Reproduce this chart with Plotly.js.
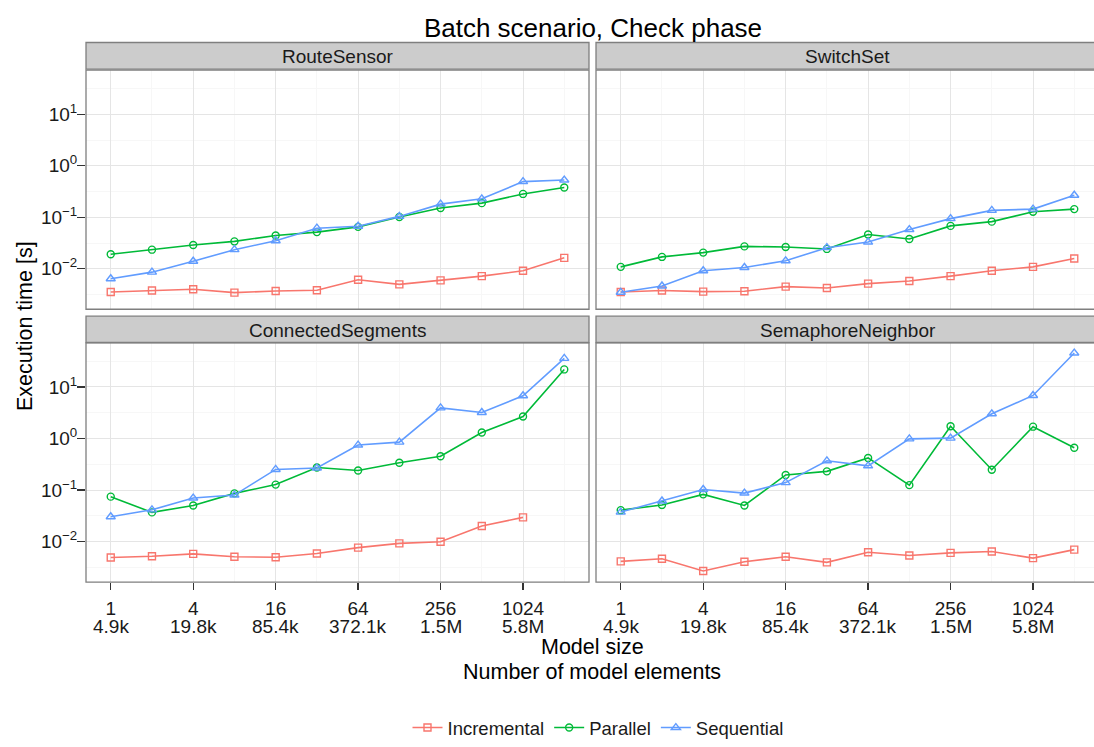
<!DOCTYPE html>
<html>
<head>
<meta charset="utf-8">
<script src="https://cdn.plot.ly/plotly-3.0.1.min.js"></script>
<style>
html, body { margin: 0; padding: 0; overflow: hidden; background: #ffffff; }
#chart { width: 1094px; height: 747px; }
</style>
</head>
<body>
<div id="chart"></div>
<script>
// ---------------- data ----------------
const sizes = [1, 2, 4, 8, 16, 32, 64, 128, 256, 512, 1024, 2048];
const tickSizes = [1, 4, 16, 64, 256, 1024];
const tickElements = ['4.9k', '19.8k', '85.4k', '372.1k', '1.5M', '5.8M'];
const yTickVals = [0.01, 0.1, 1, 10];
const yTickText = ['10<sup>\u22122</sup>', '10<sup>\u22121</sup>', '10<sup>0</sup>', '10<sup>1</sup>'];
const panels = ['RouteSensor', 'SwitchSet', 'ConnectedSegments', 'SemaphoreNeighbor'];
const seriesNames = ['Incremental', 'Parallel', 'Sequential'];

const routeSensorIncremental = [0.00355, 0.00378, 0.0040, 0.00345, 0.0037, 0.00383, 0.00614, 0.00499, 0.00596, 0.00721, 0.00916, 0.0163];
const routeSensorParallel = [0.0191, 0.0235, 0.0290, 0.0340, 0.0443, 0.0515, 0.0651, 0.101, 0.151, 0.188, 0.284, 0.378];
const routeSensorSequential = [0.00642, 0.0086, 0.0140, 0.0235, 0.035, 0.0614, 0.0671, 0.104, 0.180, 0.228, 0.492, 0.528];

const switchSetIncremental = [0.00355, 0.00378, 0.00361, 0.00366, 0.00451, 0.00424, 0.00515, 0.00578, 0.00721, 0.00916, 0.0109, 0.0158];
const switchSetParallel = [0.0109, 0.0170, 0.0206, 0.0272, 0.0265, 0.0243, 0.0463, 0.0378, 0.068, 0.0823, 0.128, 0.144];
const switchSetSequential = [0.0035, 0.00463, 0.00916, 0.0106, 0.0143, 0.0257, 0.033, 0.0578, 0.094, 0.136, 0.144, 0.268];

const connectedSegmentsIncremental = [0.00494, 0.00523, 0.00582, 0.0051, 0.00501, 0.0059, 0.00768, 0.00929, 0.0100, 0.0202, 0.0296, null];
const connectedSegmentsParallel = [0.0748, 0.037, 0.0504, 0.0865, 0.128, 0.275, 0.241, 0.339, 0.455, 1.31, 2.68, 21.9];
const connectedSegmentsSequential = [0.0305, 0.0415, 0.0703, 0.0802, 0.252, 0.268, 0.748, 0.853, 3.94, 3.20, 6.76, 35.9];

const semaphoreNeighborIncremental = [0.00415, 0.00466, 0.0027, 0.00409, 0.0051, 0.00397, 0.00624, 0.0054, 0.00608, 0.00645, 0.0048, 0.00703];
const semaphoreNeighborParallel = [0.0409, 0.0516, 0.0828, 0.0504, 0.197, 0.231, 0.421, 0.125, 1.73, 0.249, 1.70, 0.663];
const semaphoreNeighborSequential = [0.0375, 0.0616, 0.103, 0.0877, 0.140, 0.370, 0.296, 0.986, 1.02, 3.02, 6.85, 45.5];

const panelData = [
  [routeSensorIncremental, routeSensorParallel, routeSensorSequential],
  [switchSetIncremental, switchSetParallel, switchSetSequential],
  [connectedSegmentsIncremental, connectedSegmentsParallel, connectedSegmentsSequential],
  [semaphoreNeighborIncremental, semaphoreNeighborParallel, semaphoreNeighborSequential]
];

// ---------------- styling ----------------
const W = 1094, H = 747;
const colors = ['#F8766D', '#00BA38', '#619CFF'];
const symbols = ['square-open', 'circle-open', 'triangle-up-open'];
const msizes = [7, 7, 8];
const FONT = 'Liberation Sans, Arial, Helvetica, sans-serif';

// full panel pixel boxes [x0, x1, y0, y1] (y from top); right panels run past the page edge
const boxes = [
  [86, 589, 71, 313],
  [596, 1099, 71, 313],
  [86, 589, 347, 589.3],
  [596, 1099, 347, 589.3]
];
const strips = [
  [86, 589, 43, 70],
  [596, 1099, 43, 70],
  [86, 589, 320, 346.7],
  [596, 1099, 320, 346.7]
];
const px = v => v / W;
const py = v => 1 - v / H;

const traces = [];
panels.forEach((p, pi) => {
  const sfx = pi === 0 ? '' : String(pi + 1);
  seriesNames.forEach((s, si) => {
    traces.push({
      type: 'scatter',
      mode: 'lines+markers',
      x: sizes,
      y: panelData[pi][si],
      name: s,
      legendgroup: s,
      showlegend: pi === 0,
      xaxis: 'x' + sfx,
      yaxis: 'y' + sfx,
      connectgaps: false,
      line: { color: colors[si], width: 1.6 },
      marker: { symbol: symbols[si], size: msizes[si], color: colors[si], line: { color: colors[si], width: 1.4 } },
      cliponaxis: false
    });
  });
});

const LOG2 = Math.log10(2);
const xLo = -0.6, xHi = 11.6; // log2 range of a full panel
const yRange = [-2.785, 1.856];
const xMinor = [2, 8, 32, 128, 512, 2048];
const yMinor = [Math.pow(10, -2.5), Math.pow(10, -1.5), Math.pow(10, -0.5), Math.pow(10, 0.5), Math.pow(10, 1.5)];

const layout = {
  width: W,
  height: H,
  margin: { l: 0, r: 0, t: 0, b: 0, pad: 0 },
  paper_bgcolor: '#ffffff',
  plot_bgcolor: '#ffffff',
  font: { family: FONT, color: '#1a1a1a', size: 18 },
  title: {
    text: 'Batch scenario, Check phase',
    x: 593 / W, xanchor: 'center', xref: 'paper',
    y: 1 - 28 / H, yanchor: 'middle', yref: 'paper',
    font: { family: FONT, size: 26, color: '#000000' }
  },
  showlegend: true,
  legend: {
    orientation: 'h',
    x: 598 / W, xanchor: 'center',
    y: 1 - 737 / H, yanchor: 'middle',
    font: { family: FONT, size: 18.5, color: '#1a1a1a' },
    bgcolor: 'rgba(0,0,0,0)',
    itemwidth: 30,
    tracegroupgap: 0
  },
  shapes: [],
  annotations: []
};

boxes.forEach((b, i) => {
  const sfx = i === 0 ? '' : String(i + 1);
  const bottom = i >= 2;
  const left = i % 2 === 0;
  // clip visible part of the panel to the page width, keeping the same scale
  const pxPerStep = (b[1] - b[0]) / (xHi - xLo);
  const visRight = Math.min(b[1], W);
  const hiVis = xHi - (b[1] - visRight) / pxPerStep;
  layout['xaxis' + sfx] = {
    type: 'log',
    range: [xLo * LOG2, hiVis * LOG2],
    domain: [px(b[0]), px(visRight)],
    anchor: 'y' + sfx,
    showline: false,
    zeroline: false,
    showgrid: true,
    gridcolor: '#E5E5E5',
    gridwidth: 1,
    tickmode: 'array',
    tickvals: tickSizes,
    ticktext: tickSizes.map(v => String(v)),
    showticklabels: bottom,
    ticks: bottom ? 'outside' : '',
    ticklen: 7,
    tickwidth: 1.3,
    tickcolor: '#333333',
    ticklabelstandoff: 2,
    tickfont: { family: FONT, size: 19, color: '#1a1a1a' },
    minor: { tickvals: xMinor, showgrid: true, gridcolor: '#F7F7F7', gridwidth: 1, ticks: '' },
    fixedrange: true
  };
  layout['yaxis' + sfx] = {
    type: 'log',
    range: yRange,
    domain: [py(b[3]), py(b[2])],
    anchor: 'x' + sfx,
    showline: false,
    zeroline: false,
    showgrid: true,
    gridcolor: '#E5E5E5',
    gridwidth: 1,
    tickmode: 'array',
    tickvals: yTickVals,
    ticktext: yTickText,
    showticklabels: left,
    ticks: left ? 'outside' : '',
    ticklen: 8,
    tickwidth: 1.3,
    tickcolor: '#333333',
    ticklabelstandoff: -4,
    tickfont: { family: FONT, size: 19, color: '#1a1a1a' },
    minor: { tickvals: yMinor, showgrid: true, gridcolor: '#F7F7F7', gridwidth: 1, ticks: '' },
    fixedrange: true
  };
  // panel border
  layout.shapes.push({
    type: 'rect', xref: 'paper', yref: 'paper',
    x0: px(b[0]), x1: px(b[1]), y0: py(b[3]), y1: py(b[2]),
    line: { color: '#7F7F7F', width: 1.3 }, fillcolor: 'rgba(0,0,0,0)', layer: 'above'
  });
  // strip
  const s = strips[i];
  layout.shapes.push({
    type: 'rect', xref: 'paper', yref: 'paper',
    x0: px(s[0]), x1: px(s[1]), y0: py(s[3]), y1: py(s[2]),
    line: { color: '#7F7F7F', width: 1.3 }, fillcolor: '#CCCCCC', layer: 'above'
  });
  layout.annotations.push({
    xref: 'paper', yref: 'paper',
    x: px((s[0] + s[1]) / 2), y: py((s[2] + s[3]) / 2 + 1),
    xanchor: 'center', yanchor: 'middle',
    text: panels[i], showarrow: false,
    font: { family: FONT, size: 19, color: '#1a1a1a' }
  });
  // second tick-label row: number of model elements, placed via the panel's x axis
  if (bottom) {
    tickSizes.forEach((v, k) => {
      layout.annotations.push({
        xref: 'x' + sfx, yref: 'paper',
        x: Math.log10(v), y: py(634),
        xanchor: 'center', yanchor: 'middle',
        text: tickElements[k], showarrow: false,
        font: { family: FONT, size: 19, color: '#1a1a1a' }
      });
    });
  }
});

// axis titles
layout.annotations.push({
  xref: 'paper', yref: 'paper', x: px(25), y: py(330),
  xanchor: 'center', yanchor: 'middle', textangle: -90,
  text: 'Execution time [s]', showarrow: false,
  font: { family: FONT, size: 21.5, color: '#000000' }
});
layout.annotations.push({
  xref: 'paper', yref: 'paper', x: px(592), y: py(655),
  xanchor: 'center', yanchor: 'middle',
  text: 'Model size', showarrow: false,
  font: { family: FONT, size: 21.5, color: '#000000' }
});
layout.annotations.push({
  xref: 'paper', yref: 'paper', x: px(592), y: py(680),
  xanchor: 'center', yanchor: 'middle',
  text: 'Number of model elements', showarrow: false,
  font: { family: FONT, size: 21.5, color: '#000000' }
});

Plotly.newPlot('chart', traces, layout, { displayModeBar: false, staticPlot: true });
</script>
</body>
</html>
